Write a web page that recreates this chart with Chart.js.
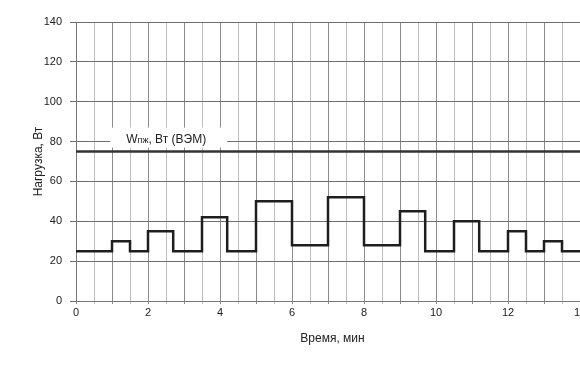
<!DOCTYPE html>
<html>
<head>
<meta charset="utf-8">
<script src="https://cdn.jsdelivr.net/npm/chart.js@4/dist/chart.umd.min.js"></script>
<style>
    body { margin: 0; overflow: hidden; background: #fff; }
</style>
</head>
<body>
<canvas id="loadChart" width="640" height="365"></canvas>
<script>
// начало каждой ступени нагрузки, мин
let stepStart = [0, 1, 1.5, 2, 2.7, 3.5, 4.2, 5, 6, 7, 8, 9, 9.7, 10.5, 11.2, 12, 12.5, 13, 13.5];
// нагрузка на ступени, Вт
let load = [25, 30, 25, 35, 25, 42, 25, 50, 28, 52, 28, 45, 25, 40, 25, 35, 25, 30, 25];
let timeEnd = 14.25;
let wLevel = 75;
let yTicks = [0, 20, 40, 60, 80, 100, 120, 140];
let xTickLabels = [0, 2, 4, 6, 8, 10, 12, 14];

let fontFamily = "'Liberation Sans', Arial, sans-serif";

function stepPoints() {
    let pts = stepStart.map(function (t, i) {
        return { x: t, y: load[i] };
    });
    pts.push({ x: timeEnd, y: load[load.length - 1] });
    return pts;
}

// подпись над линией 80 с белым фоном
let labelPlugin = {
    id: "wLabel",
    beforeDatasetsDraw: function (chart) {
        let ctx = chart.ctx;
        let xs = chart.scales.x;
        let ys = chart.scales.y;
        let y80 = ys.getPixelForValue(80);
        let left = xs.getPixelForValue(0.95);
        let right = xs.getPixelForValue(4.2);
        ctx.save();
        ctx.fillStyle = "#fff";
        ctx.fillRect(left, y80 - 14, right - left, 20);
        ctx.fillStyle = "#222";
        ctx.textBaseline = "alphabetic";
        let base = y80 + 1;
        let x = left + 16;
        ctx.font = "12px " + fontFamily;
        ctx.fillText("W", x, base);
        x += ctx.measureText("W").width;
        ctx.font = "9px " + fontFamily;
        ctx.fillText("пж", x, base);
        x += ctx.measureText("пж").width;
        ctx.font = "12px " + fontFamily;
        ctx.fillText(", Вт (ВЭМ)", x, base);
        ctx.restore();
    },
};

let ctx = document.getElementById("loadChart").getContext("2d");
let myChart = new Chart(ctx, {
    type: "scatter",
    data: {
        datasets: [
            {
                label: "Нагрузка",
                data: stepPoints(),
                showLine: true,
                stepped: true,
                borderColor: "#1e1e1e",
                borderWidth: 2.5,
                pointRadius: 0,
            },
            {
                label: "Wпж",
                data: [{ x: 0, y: wLevel }, { x: timeEnd, y: wLevel }],
                showLine: true,
                borderColor: "#333",
                borderWidth: 2.5,
                pointRadius: 0,
            },
        ],
    },
    options: {
        responsive: false,
        animation: false,
        layout: { padding: { top: 22, left: 0, right: 51, bottom: 0 } },
        plugins: {
            legend: { display: false },
            tooltip: { enabled: false },
        },
        scales: {
            x: {
                type: "linear",
                min: 0,
                max: timeEnd,
                afterBuildTicks: function (axis) {
                    let t = [];
                    for (let v = 0; v <= timeEnd; v += 0.5) t.push({ value: v });
                    axis.ticks = t;
                },
                afterFit: function (axis) {
                    axis.height = 64;
                },
                ticks: {
                    autoSkip: false,
                    maxRotation: 0,
                    color: "#222",
                    font: { family: fontFamily, size: 11 },
                    padding: 2,
                    callback: function (v) {
                        return xTickLabels.indexOf(v) >= 0 ? String(v) : "";
                    },
                },
                grid: {
                    color: function (c) {
                        return Number.isInteger(c.tick.value) ? "#8c8c8c" : "#bdbdbd";
                    },
                    tickLength: 3,
                },
                border: { color: "#777" },
                title: {
                    display: true,
                    text: "Время, мин",
                    color: "#222",
                    font: { family: fontFamily, size: 12 },
                    padding: { top: 0, bottom: 19 },
                },
            },
            y: {
                min: 0,
                max: 140,
                afterBuildTicks: function (axis) {
                    axis.ticks = yTicks.map(function (v) { return { value: v }; });
                },
                afterFit: function (axis) {
                    axis.width = 76;
                },
                ticks: {
                    color: "#222",
                    font: { family: fontFamily, size: 11 },
                    padding: 8,
                },
                grid: { color: "#6e6e6e", tickLength: 6 },
                border: { color: "#777" },
                title: {
                    display: true,
                    text: "Нагрузка, Вт",
                    color: "#222",
                    font: { family: fontFamily, size: 12 },
                    padding: { top: 31, bottom: 0 },
                },
            },
        },
    },
    plugins: [labelPlugin],
});
</script>
</body>
</html>
